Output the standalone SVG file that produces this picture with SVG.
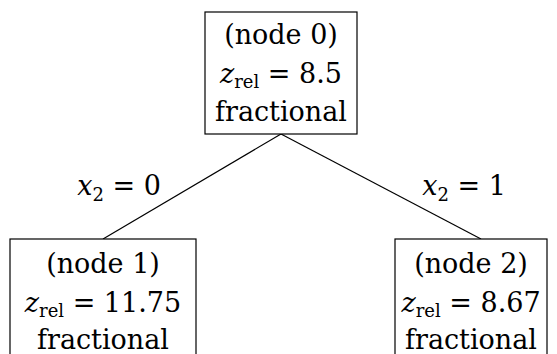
<svg xmlns="http://www.w3.org/2000/svg" width="557" height="354" viewBox="0 0 557 354">
<style>
.box{fill:#fff;stroke:#000;stroke-width:1.2}
.t{font-family:"DejaVu Serif","Liberation Serif",serif;font-size:27px;fill:#000;text-anchor:middle}
.i{font-style:italic}
.s{font-size:18px}
.e{stroke:#000;stroke-width:1.2;fill:none}
</style>
<rect width="557" height="354" fill="#fff"/>
<g id="edges">
<line class="e" x1="281" y1="134" x2="103" y2="239"/>
<line class="e" x1="281" y1="134" x2="481" y2="239"/>
<text class="t" x="119" y="195"><tspan class="i">x</tspan><tspan class="s" dy="6">2</tspan><tspan dy="-6"> = 0</tspan></text>
<text class="t" x="464" y="195"><tspan class="i">x</tspan><tspan class="s" dy="6">2</tspan><tspan dy="-6"> = 1</tspan></text>
</g>
<g id="node0">
<rect class="box" x="205" y="12" width="152" height="122"/>
<text class="t" x="281" y="44">(node 0)</text>
<text class="t" x="281" y="83"><tspan class="i">z</tspan><tspan class="s" dy="5">rel</tspan><tspan dy="-5"> = 8.5</tspan></text>
<text class="t" x="281" y="121">fractional</text>
</g>
<g id="node1">
<rect class="box" x="10" y="239" width="186" height="130"/>
<text class="t" x="103" y="273">(node 1)</text>
<text class="t" x="103" y="312"><tspan class="i">z</tspan><tspan class="s" dy="5">rel</tspan><tspan dy="-5"> = 11.75</tspan></text>
<text class="t" x="103" y="349">fractional</text>
</g>
<g id="node2">
<rect class="box" x="395" y="239" width="152" height="130"/>
<text class="t" x="471" y="273">(node 2)</text>
<text class="t" x="471" y="312"><tspan class="i">z</tspan><tspan class="s" dy="5">rel</tspan><tspan dy="-5"> = 8.67</tspan></text>
<text class="t" x="471" y="349">fractional</text>
</g>
</svg>
